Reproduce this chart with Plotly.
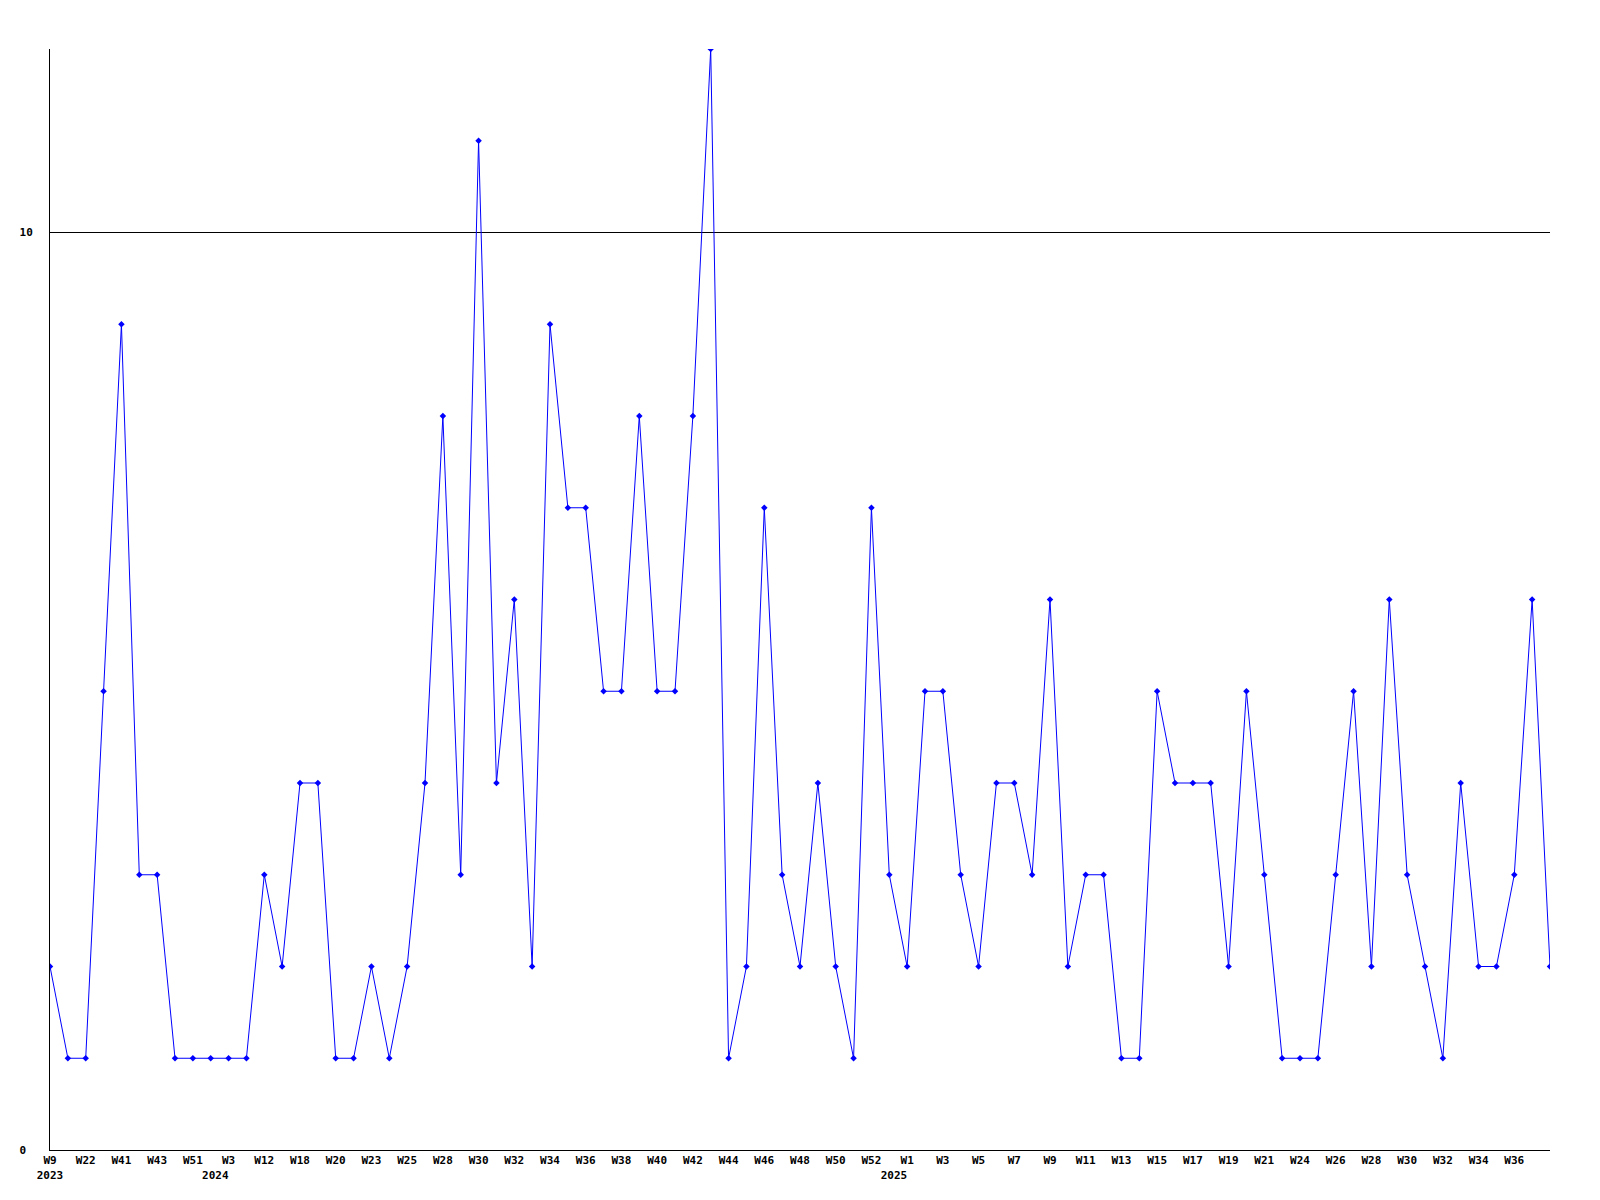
import plotly.graph_objs as go

# one point per week, ticks shown on every second week
weeks = ['2023-W9', '2023-W15', '2023-W22', '2023-W39', '2023-W41', '2023-W42', '2023-W43', '2023-W47',
         '2023-W51', '2023-W52', '2024-W3', '2024-W7', '2024-W12', '2024-W15', '2024-W18', '2024-W19',
         '2024-W20', '2024-W21', '2024-W23', '2024-W24', '2024-W25', '2024-W27', '2024-W28', '2024-W29',
         '2024-W30', '2024-W31', '2024-W32', '2024-W33', '2024-W34', '2024-W35', '2024-W36', '2024-W37',
         '2024-W38', '2024-W39', '2024-W40', '2024-W41', '2024-W42', '2024-W43', '2024-W44', '2024-W45',
         '2024-W46', '2024-W47', '2024-W48', '2024-W49', '2024-W50', '2024-W51', '2024-W52', '2024-W53',
         '2025-W1', '2025-W2', '2025-W3', '2025-W4', '2025-W5', '2025-W6', '2025-W7', '2025-W8',
         '2025-W9', '2025-W10', '2025-W11', '2025-W12', '2025-W13', '2025-W14', '2025-W15', '2025-W16',
         '2025-W17', '2025-W18', '2025-W19', '2025-W20', '2025-W21', '2025-W22', '2025-W24', '2025-W25',
         '2025-W26', '2025-W27', '2025-W28', '2025-W29', '2025-W30', '2025-W31', '2025-W32', '2025-W33',
         '2025-W34', '2025-W35', '2025-W36', '2025-W37', '2025-W38']

counts = [2, 1, 1, 5, 9, 3, 3, 1, 1, 1, 1, 1, 3, 2, 4, 4, 1, 1, 2, 1, 2, 4, 8, 3, 11, 4, 6, 2, 9, 7,
          7, 5, 5, 8, 5, 5, 8, 12, 1, 2, 7, 3, 2, 4, 2, 1, 7, 3, 2, 5, 5, 3, 2, 4, 4, 3, 6, 2, 3, 3,
          1, 1, 5, 4, 4, 4, 2, 5, 3, 1, 1, 1, 3, 5, 2, 6, 3, 2, 1, 4, 2, 2, 3, 6, 2]

y_ticks = [0, 10]
y_tick_text = ['0\u00a0', '10']

font = dict(family='DejaVu Sans Mono', size=11, color='#000000', weight='bold')


def tick_labels(week_list):
    # every second week gets a label, the year goes under the first label of each year
    vals, texts = [], []
    last_year = None
    for i, w in enumerate(week_list[:-1]):
        if i % 2:
            continue
        year, week = w.split('-')
        text = week
        if year != last_year:
            # later years sit a bit left of the week label
            pad = '' if last_year is None else '\u00a0' * 4
            text = week + '<br>' + year + pad
            last_year = year
        vals.append(w)
        texts.append(text)
    return vals, texts


tick_vals, tick_text = tick_labels(weeks)

fig = go.Figure(go.Scatter(x=weeks, y=counts, mode='lines+markers',
                           line=dict(color='#0000ff', width=1),
                           marker=dict(symbol='diamond', size=5, color='#0000ff')))

fig.update_layout(width=1600, height=1200, margin=dict(l=42, r=58, t=41, b=58, pad=0),
                  plot_bgcolor='#ffffff', paper_bgcolor='#ffffff', font=font, showlegend=False)
fig.update_xaxes(type='category', tickvals=tick_vals, ticktext=tick_text, showgrid=False, tickangle=0,
                 showline=True, linecolor='#000000', linewidth=1, ticks='', range=[0, len(weeks) - 1],
                 tickfont=font)
fig.update_yaxes(range=[0, 12], tickvals=y_ticks, ticktext=y_tick_text, showgrid=True, gridcolor='#000000',
                 gridwidth=1, zeroline=False, showline=True, linecolor='#000000', linewidth=1, ticks='',
                 ticklabelstandoff=14, tickfont=font)

fig.write_html("out.html")
